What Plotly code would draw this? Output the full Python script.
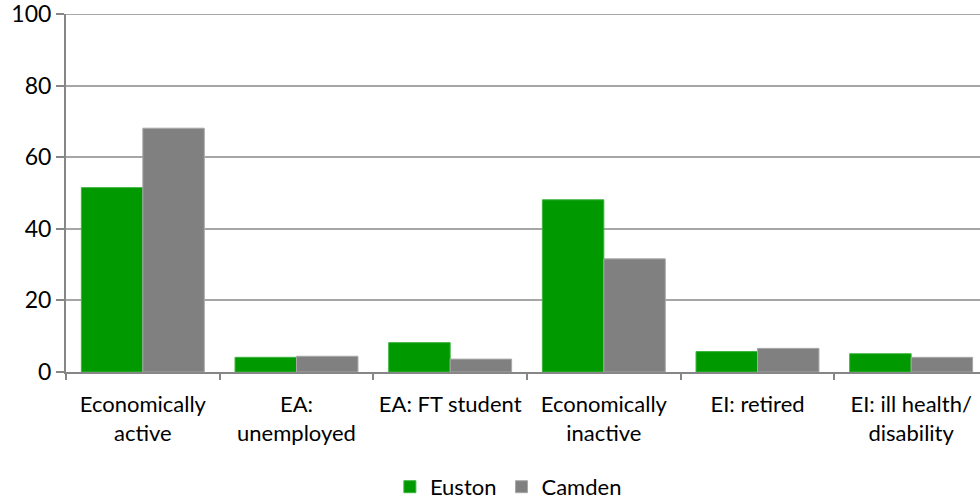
import plotly.graph_objects as go

categories = ["Economically<br>active", "EA:<br>unemployed", "EA: FT student",
              "Economically<br>inactive", "EI: retired", "EI: ill health/<br>disability"]
euston = [51.5, 4.1, 8.2, 48.1, 5.7, 5.1]
camden = [68.1, 4.4, 3.6, 31.6, 6.6, 4.1]

FONT = "Lato"
AXIS = "#868686"
GRID = "#a6a6a6"

fig = go.Figure()
fig.add_trace(go.Bar(x=categories, y=euston, name="Euston",
                     marker=dict(color="#009900", line=dict(color="#3cb43c", width=1))))
fig.add_trace(go.Bar(x=categories, y=camden, name="Camden",
                     marker=dict(color="#808080", line=dict(color="#a8a8a8", width=1))))

fig.update_layout(
    width=980, height=502,
    barmode="group", bargap=0.2, bargroupgap=0,
    plot_bgcolor="white", paper_bgcolor="white",
    margin=dict(l=66, r=0, t=14, b=130, autoexpand=False),
    font=dict(family=FONT, size=22, color="#000000"),
    legend=dict(orientation="h", x=0.484, xanchor="center", y=-0.321, yanchor="middle",
                font=dict(size=22), itemwidth=30, traceorder="normal"),
)

# right edge of the original is cut off a little
fig.update_xaxes(range=[-0.5, 5.448], showline=True, linecolor=AXIS, linewidth=2,
                 ticks="outside", tickson="boundaries", ticklen=6, tickcolor=AXIS,
                 tickwidth=2, showgrid=False, ticklabelstandoff=12)
fig.update_yaxes(range=[0, 100], tickvals=[0, 20, 40, 60, 80, 100], showline=True,
                 linecolor=AXIS, linewidth=2, ticks="outside", ticklen=8, tickcolor=AXIS,
                 tickwidth=2, gridcolor=GRID, gridwidth=2, zeroline=False,
                 tickfont=dict(size=23), ticklabeloverflow="allow")

# plotly skips the gridline sitting on the top edge, so draw it
fig.add_hline(y=100, line_color=GRID, line_width=2, layer="below")

# drop the default 8px page margin so the chart sits at 0,0
fig.write_html("out.html", config={"displayModeBar": False},
               post_script="document.body.style.margin='0';")
